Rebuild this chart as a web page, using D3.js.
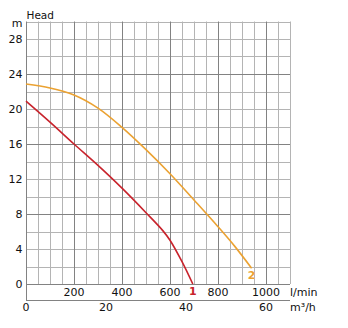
<!DOCTYPE html>
<html>
<head>
<meta charset="utf-8">
<script src="https://cdn.jsdelivr.net/npm/d3@7"></script>
<style>
  html, body { margin: 0; padding: 0; background: #fff; }
  svg { display: block; font-family: "DejaVu Sans", sans-serif; }
</style>
</head>
<body>
<svg id="chart" width="348" height="328"></svg>
<script>
// Pump performance curves: head (m) against flow (l/min)
const flowTicks = [200, 400, 600, 800, 1000];          // l/min labels
const headTicks = [0, 4, 8, 12, 16, 20, 24, 28];        // m labels
const cubicTicks = [0, 20, 40, 60];                     // m³/h labels

// Curve 1 (flow l/min, head m)
const curve1Flow = [0, 100, 200, 300, 400, 500, 570, 600, 650, 695];
const curve1Head = [20.9, 18.5, 16.0, 13.55, 10.95, 8.15, 6.1, 5.0, 2.55, 0];

// Curve 2 (flow l/min, head m)
const curve2Flow = [0, 100, 200, 300, 400, 500, 600, 700, 800, 870, 940];
const curve2Head = [22.85, 22.4, 21.6, 20.1, 17.9, 15.35, 12.6, 9.6, 6.55, 4.3, 1.8];

const seriesNames = ["1", "2"];
const seriesColors = ["#c8232c", "#eba232"];

const svg = d3.select("#chart");
const x = d3.scaleLinear().domain([0, 1100]).range([26, 290]);
const y = d3.scaleLinear().domain([0, 30]).range([284, 21.5]);
// 1 m³/h = 1000/60 l/min
const xCubic = d3.scaleLinear().domain([0, 66]).range([x(0), x(1100)]);

const crisp = v => Math.round(v) + 0.5;

// grid: minor lines first, then major on top
const grid = svg.append("g");
const vx = d3.range(0, 1101, 50);
const hy = d3.range(0, 31, 2);
grid.selectAll("line.vminor").data(vx.filter(d => d % 200 !== 0 && d !== 1100)).join("line")
  .attr("x1", d => crisp(x(d))).attr("x2", d => crisp(x(d)))
  .attr("y1", y(30)).attr("y2", y(0))
  .attr("stroke", "#b4b4b4").attr("stroke-width", 1);
grid.selectAll("line.hminor").data(hy.filter(d => d % 8 !== 0 && d !== 30)).join("line")
  .attr("x1", x(0)).attr("x2", x(1100))
  .attr("y1", d => crisp(y(d))).attr("y2", d => crisp(y(d)))
  .attr("stroke", "#b4b4b4").attr("stroke-width", 1);
// outer border (light)
grid.append("line").attr("x1", x(0)).attr("x2", x(1100))
  .attr("y1", crisp(y(30))).attr("y2", crisp(y(30))).attr("stroke", "#b4b4b4");
grid.append("line").attr("x1", crisp(x(1100))).attr("x2", crisp(x(1100)))
  .attr("y1", y(30)).attr("y2", y(0)).attr("stroke", "#b4b4b4");
grid.selectAll("line.vmajor").data(vx.filter(d => d % 200 === 0 && d > 0 && d < 1100)).join("line")
  .attr("x1", d => crisp(x(d))).attr("x2", d => crisp(x(d)))
  .attr("y1", y(30)).attr("y2", y(0))
  .attr("stroke", "#828282").attr("stroke-width", 1);
grid.selectAll("line.hmajor").data(hy.filter(d => d % 8 === 0 && d > 0)).join("line")
  .attr("x1", x(0)).attr("x2", x(1100))
  .attr("y1", d => crisp(y(d))).attr("y2", d => crisp(y(d)))
  .attr("stroke", "#828282").attr("stroke-width", 1);
// zero head line and left edge reaching down to the m³/h axis
grid.append("line").attr("x1", x(0)).attr("x2", x(1100))
  .attr("y1", crisp(y(0))).attr("y2", crisp(y(0))).attr("stroke", "#828282");
grid.append("line").attr("x1", crisp(x(0))).attr("x2", crisp(x(0)))
  .attr("y1", y(30)).attr("y2", 300).attr("stroke", "#828282");
grid.append("line").attr("x1", x(0)).attr("x2", x(1100))
  .attr("y1", 300.5).attr("y2", 300.5).attr("stroke", "#828282");

// curves
const line = d3.line().x(d => x(d[0])).y(d => y(d[1])).curve(d3.curveCatmullRom.alpha(0.5));
const series = [
  d3.zip(curve1Flow, curve1Head),
  d3.zip(curve2Flow, curve2Head)
];
svg.append("g").selectAll("path").data(series).join("path")
  .attr("d", line)
  .attr("fill", "none")
  .attr("stroke", (d, i) => seriesColors[i])
  .attr("stroke-width", 1.6);

// curve numbers at the end of each curve
svg.append("g").selectAll("text").data(series).join("text")
  .attr("x", d => x(d[d.length - 1][0]))
  .attr("y", d => y(d[d.length - 1][1]) + 11)
  .attr("text-anchor", "middle")
  .attr("font-size", 11).attr("font-weight", "bold")
  .attr("fill", (d, i) => seriesColors[i])
  .text((d, i) => seriesNames[i]);

const textColor = "#111";
// head tick labels
svg.append("g").selectAll("text").data(headTicks).join("text")
  .attr("x", 22.5).attr("y", d => y(d)).attr("dy", "0.36em")
  .attr("text-anchor", "end").attr("font-size", 11).attr("fill", textColor)
  .text(d => d);
// flow tick labels (l/min)
svg.append("g").selectAll("text").data(flowTicks).join("text")
  .attr("x", d => x(d)).attr("y", 295.5)
  .attr("text-anchor", "middle").attr("font-size", 11).attr("fill", textColor)
  .text(d => d);
// flow tick labels (m³/h)
svg.append("g").selectAll("text").data(cubicTicks).join("text")
  .attr("x", d => xCubic(d)).attr("y", 311)
  .attr("text-anchor", "middle").attr("font-size", 11).attr("fill", textColor)
  .text(d => d);

// axis titles
svg.append("text").attr("x", 26.5).attr("y", 19).attr("font-size", 10.5).attr("fill", textColor).text("Head");
svg.append("text").attr("x", 22.5).attr("y", 27).attr("text-anchor", "end").attr("font-size", 11).attr("fill", textColor).text("m");
svg.append("text").attr("x", 290).attr("y", 295.5).attr("font-size", 11).attr("fill", textColor).text("l/min");
svg.append("text").attr("x", 290).attr("y", 311).attr("font-size", 11).attr("fill", textColor).text("m³/h");
</script>
</body>
</html>
